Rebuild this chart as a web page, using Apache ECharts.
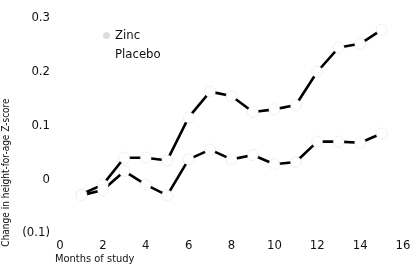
<!DOCTYPE html>
<html>
<head>
<meta charset="utf-8">
<script src="https://cdn.jsdelivr.net/npm/echarts@6/dist/echarts.min.js"></script>
<style>
  html, body { margin: 0; padding: 0; background: #fff; }
  #chart { width: 417px; height: 269px; }
</style>
</head>
<body>
<div id="chart"></div>
<script>
// months of study
var months = [1, 2, 3, 4, 5, 6, 7, 8, 9, 10, 11, 12, 13, 14, 15];
// change in height-for-age Z-score
var zinc = [-0.028, -0.01, 0.04, 0.04, 0.035, 0.115, 0.163, 0.155, 0.125, 0.13, 0.138, 0.2, 0.245, 0.252, 0.278];
var placebo = [-0.03, -0.02, 0.015, -0.01, -0.03, 0.037, 0.055, 0.037, 0.045, 0.028, 0.032, 0.07, 0.07, 0.068, 0.085];

var font = "'Liberation Sans Narrow', 'DejaVu Sans Condensed', sans-serif";

function pairs(ys) {
  var out = [];
  for (var i = 0; i < months.length; i++) {
    out.push([months[i], ys[i]]);
  }
  return out;
}

var chart = echarts.init(document.getElementById("chart"));

var lineSeries = function (name, ys) {
  return {
    name: name,
    type: "line",
    data: pairs(ys),
    symbol: "circle",
    symbolSize: 11,
    showSymbol: true,
    itemStyle: {
      color: "#fff",
      borderColor: "#ccc",
      borderWidth: 0.6,
      borderType: "dotted"
    },
    lineStyle: { color: "#000", width: 2.6 },
    emphasis: { disabled: true },
    z: 2
  };
};

var option = {
  animation: false,
  textStyle: { fontFamily: font, color: "#111" },
  grid: { left: 60, right: 14, top: 18, bottom: 36, outerBoundsMode: "none" },
  title: {
    text: "Months of study",
    left: 55,
    top: 254,
    padding: 0,
    textStyle: { fontFamily: font, fontSize: 11, fontWeight: "normal", color: "#111" }
  },
  legend: {
    orient: "vertical",
    left: 103,
    top: 29,
    padding: 0,
    itemGap: 6,
    itemWidth: 7,
    itemHeight: 14,
    textStyle: { fontFamily: font, fontSize: 13, color: "#111" },
    data: [
      { name: "Zinc", icon: "circle", itemStyle: { color: "#ddd", borderWidth: 0 } },
      { name: "Placebo", icon: "none" }
    ]
  },
  xAxis: {
    type: "value",
    min: 0,
    max: 16,
    interval: 2,
    axisLine: { show: false },
    axisTick: { show: false },
    splitLine: { show: false },
    axisLabel: { fontFamily: font, fontSize: 13, color: "#111", margin: 6 }
  },
  yAxis: {
    type: "value",
    min: -0.1,
    max: 0.3,
    interval: 0.1,
    name: "Change in height-for-age Z-score",
    nameLocation: "middle",
    nameGap: 47,
    nameTextStyle: { fontFamily: font, fontSize: 10, color: "#111", padding: [0, 94, 0, 0] },
    axisLine: { show: false },
    axisTick: { show: false },
    splitLine: { show: false },
    axisLabel: {
      fontFamily: font,
      fontSize: 13,
      color: "#111",
      margin: 10,
      formatter: function (v) {
        var r = Math.round(v * 10) / 10;
        if (r < 0) return "(" + Math.abs(r).toFixed(1) + ")";
        if (r === 0) return "0";
        return r.toFixed(1);
      }
    }
  },
  series: [lineSeries("Zinc", zinc), lineSeries("Placebo", placebo)]
};

chart.setOption(option);
</script>
</body>
</html>
